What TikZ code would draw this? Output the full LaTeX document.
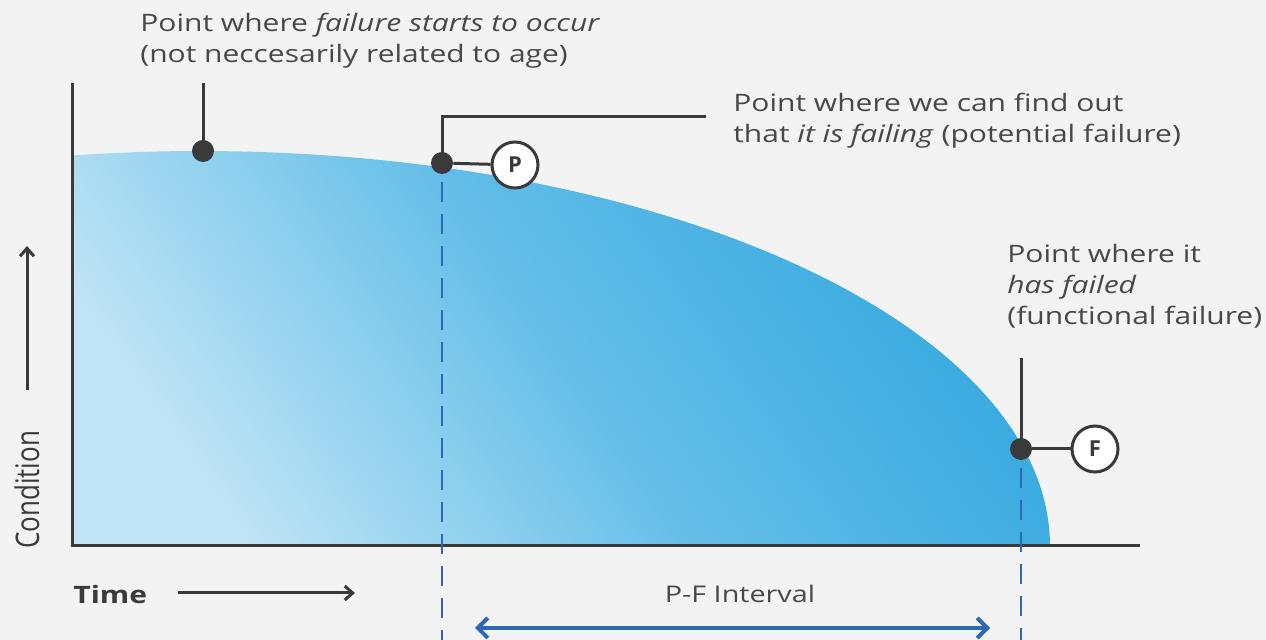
\documentclass[tikz,border=0pt]{standalone}
\usepackage{fontspec}
\setmainfont[FakeStretch=1.25]{Open Sans}
\newfontfamily\plainsans{Open Sans}
\usetikzlibrary{arrows.meta}
\definecolor{bg}{RGB}{243,243,243}
\definecolor{dk}{RGB}{58,58,58}
\definecolor{txt}{RGB}{72,72,72}
\definecolor{bl}{RGB}{46,104,180}
\definecolor{lb}{RGB}{192,228,245}
\definecolor{mb}{RGB}{100,190,232}
\definecolor{db}{RGB}{52,168,223}
\begin{document}
\begin{tikzpicture}[x=0.5pt,y=-0.5pt,
 dot/.style={circle,fill=dk,inner sep=0,minimum size=11pt},
 lbl/.style={circle,draw=dk,line width=1.5pt,fill=white,inner sep=0,minimum size=23pt,font=\plainsans\bfseries\fontsize{11}{11}\selectfont,text=dk},
 lead/.style={dk,line width=1.5pt},
 note/.style={align=left,anchor=base west,text=txt,font=\fontsize{12}{15.5}\selectfont,inner sep=0},
 guide/.style={bl,line width=1.2pt,dash pattern=on 10pt off 6pt},
 axisarrow/.style={dk,line width=1.5pt,-{Straight Barb[length=4pt,width=7pt]}}]
\fill[bg] (0,0) rectangle (1266,640);
\useasboundingbox (0,0) rectangle (1266,640);
\shade[top color=db,bottom color=lb,middle color=mb,shading angle=-55] (72,546) -- plot[domain=98.66:0,samples=90] ({200+850*cos(\x)},{546-395*sin(\x)}) -- cycle;
\draw[lead] (72,83) -- (72,546) -- (1140,546);
% dots and labels
\node[dot] (d1) at (203,151) {};
\coordinate (t1) at (203,83);
\draw[lead] (d1.center) -- (t1);
\node[dot] (dp) at (442,163) {};
\node[lbl] (P) at (515,165) {P};
\coordinate (k1) at (442,117);
\coordinate (k2) at (706,117);
\draw[lead] (dp.center) -- (k1) -- (k2);
\draw[lead] (dp) -- (P);
\node[dot] (df) at (1021,449) {};
\node[lbl] (F) at (1095,449) {F};
\coordinate (t3) at (1021,358);
\draw[lead] (df.center) -- (t3);
\draw[lead] (df) -- (F);
% dashed guides
\coordinate (b1) at (442,640);
\coordinate (b2) at (1021,640);
\draw[guide] ([yshift=-4pt]dp.south) -- (b1);
\draw[guide] ([yshift=-4pt]df.south) -- (b2);
% interval
\coordinate (a1) at (475,628);
\coordinate (a2) at (990,628);
\draw[bl,line width=2pt,{Straight Barb[length=5pt,width=10pt]}-{Straight Barb[length=5pt,width=10pt]}] (a1) -- (a2);
\node[text=txt,font=\fontsize{11.5}{14}\selectfont] (pf) at (740,594) {P-F Interval};
% notes
\node[note] (n1) at (140,63) {Point where \textit{failure starts to occur}\\(not neccesarily related to age)};
\node[note] (n2) at (733,143) {Point where we can find out\\that \textit{it is failing} (potential failure)};
\node[note] (n3) at (1007,325) {Point where it\\\textit{has failed}\\(functional failure)};
% axes labels
\node[anchor=west,inner sep=0,text=dk,font=\bfseries\fontsize{12}{14}\selectfont] (time) at (73,595) {Time};
\coordinate (ta1) at (178,593);
\coordinate (ta2) at (355,593);
\draw[axisarrow] (ta1) -- (ta2);
\node[rotate=90,yscale=1.25,inner sep=0,text=dk,font=\plainsans\fontsize{13}{15}\selectfont] (cond) at (27,490) {Condition};
\coordinate (ca1) at (27,390);
\coordinate (ca2) at (27,246);
\draw[axisarrow] (ca1) -- (ca2);
\end{tikzpicture}
\end{document}
